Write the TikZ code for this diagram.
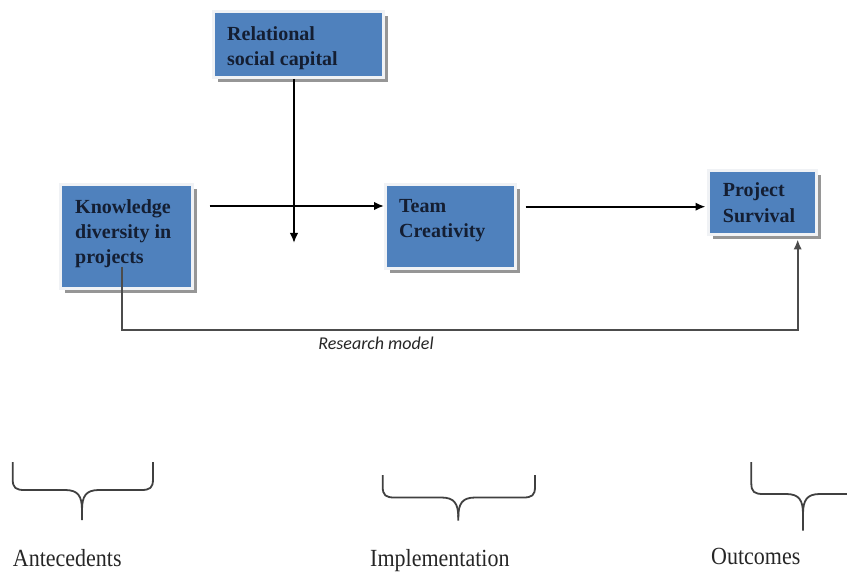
\documentclass[tikz,border=0pt]{standalone}
\usepackage{fontspec}
\setmainfont{Liberation Serif}
\newfontfamily\capfont{Carlito}
\usetikzlibrary{arrows.meta,shadows,calc}
\definecolor{boxblue}{RGB}{79,129,189}
\definecolor{boxtext}{RGB}{20,30,50}
\definecolor{boxshadow}{RGB}{150,150,150}
\definecolor{boxrim}{RGB}{240,242,245}
% brace: #1 x1, #2 x2, #3 top, #4 bar, #5 tip, #6 centre
\newcommand\phasebrace[6]{%
  \draw[brace] (#1,#3) -- (#1,{#4-11}) .. controls (#1,{#4-2}) and ({#1+3},#4) .. ({#1+12},#4) -- ({#6-17},#4)
    .. controls ({#6-4},#4) and (#6,{#4+6}) .. (#6,{#4+20}) -- (#6,#5);
  \draw[brace] (#6,{#4+20}) .. controls (#6,{#4+6}) and ({#6+4},#4) .. ({#6+17},#4)
    -- ({#2-12},#4) .. controls ({#2-3},#4) and (#2,{#4-2}) .. (#2,{#4-11}) -- (#2,#3);
}
\begin{document}
\begin{tikzpicture}[x=1pt,y=-1pt,
  box/.style={draw=boxrim, line width=3pt, fill=boxblue, inner sep=0pt,
    drop shadow={shadow xshift=4.5pt, shadow yshift=-4.5pt, fill=boxshadow, opacity=1}},
  boxlabel/.style={anchor=north west, inner sep=0pt, align=left, text=boxtext,
    font=\fontsize{20}{25}\selectfont\bfseries},
  arr/.style={line width=1.8pt, -{Latex[length=10pt,width=8.5pt]}},
  brace/.style={line width=1.8pt, draw=black!75, line join=round},
  phase/.style={anchor=base west, inner sep=0pt, font=\fontsize{22}{26}\selectfont, text=black!85}
]
\useasboundingbox (0,0) rectangle (847,572);

% boxes
\node[box, minimum width=170pt, minimum height=66pt] (rsc) at (298.5,44.5) {};
\node[box, minimum width=132pt, minimum height=104pt] (kd) at (126.5,236.5) {};
\node[box, minimum width=130pt, minimum height=84pt] (tc) at (450.5,226.5) {};
\node[box, minimum width=108pt, minimum height=64pt] (ps) at (762.5,202.5) {};

\node[boxlabel] (rsct) at (227,26.3) {Relational\\social capital};
\node[boxlabel] (kdt) at (75,199.3) {Knowledge\\diversity in\\projects};
\node[boxlabel] (tct) at (399,199.3) {Team\\Creativity};
\node[boxlabel, font=\fontsize{20}{26.5}\selectfont\bfseries] (pst) at (722.7,182.3) {Project\\Survival};

% connectors
\coordinate (row1) at (0,206);
\coordinate (row2) at (0,206.7);
\coordinate (mod) at (294,243);
\coordinate (fbs) at (121.7,267);
\coordinate (fbc) at (797.7,330);

\draw[arr, shorten <=15.5pt] (kd.east |- row1) -- (tc.west |- row1);
\draw[arr] (rsc.south -| mod) -- (mod);
\draw[arr, shorten <=8.5pt, shorten >=1.5pt] (tc.east |- row2) -- (ps.west |- row2);
\draw[arr, draw=black!70, shorten >=3.5pt] (fbs) |- (fbc) -- (fbc |- ps.south);

\node[font=\capfont\itshape\fontsize{18}{21}\selectfont, anchor=base, text=black!85, inner sep=0pt] (cap) at (376,350) {Research model};

% braces
\phasebrace{12.7}{153}{462}{490}{520}{82}
\phasebrace{382.7}{535}{475}{497.5}{520.5}{458.3}
\draw[brace] (751.3,462) -- (751.3,483) .. controls (751.3,492) and (754.3,494) .. (763.3,494) -- (786,494)
    .. controls (799,494) and (803,500) .. (803,514) -- (803,530.7);
\draw[brace] (803,514) .. controls (803,500) and (807,494) .. (820,494) -- (847,494);

\node[phase] (ant) at (12.7,566) {\scalebox{1}[1.12]{Antecedents}};
\node[phase] (imp) at (370,566) {\scalebox{1}[1.12]{Implementation}};
\node[phase] (out) at (711,564) {\scalebox{1}[1.12]{Outcomes}};
\end{tikzpicture}
\end{document}
